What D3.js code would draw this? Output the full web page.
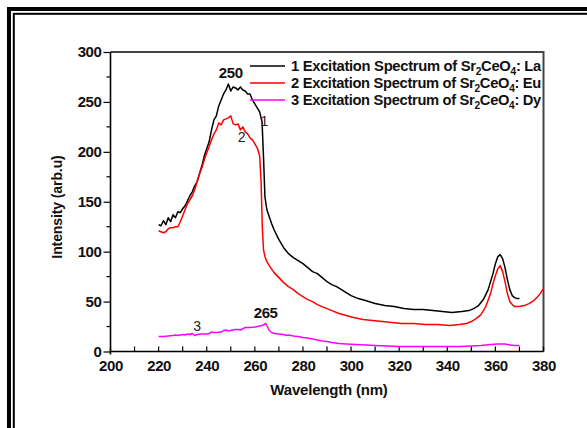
<!DOCTYPE html>
<html><head><meta charset="utf-8">
<script src="https://cdn.jsdelivr.net/npm/d3@7"></script>
<style>body{margin:0;background:#fff}svg{display:block}text{font-family:Arial,"Liberation Sans",sans-serif}</style>
</head><body><svg id="c" width="587" height="428"></svg>
<script>
// ---- data ----
const laWave = [220,221,222,223,224,225,226,227,228,229,230,231,232,233,234,235,236,237,238,239,240,241,242,243,244,245,246,247,248,249,250,251,252,253,254,255,256,257,258,259,260,261,262,263,263.6,264.2,265,266,267,268,270,272,274,276,278,280,282,284,286,288,290,292,294,296,298,300,303,306,310,314,318,322,326,330,334,338,342,346,349,351,353,355,357,359,360,361,362,363,364,365,366,367,368,369,370];
const laVal  = [127,126,131,127,134,130,137,134,140,139,143,146,151,156,160,166,170,178,186,196,203,210,222,232,236,246,252,258,262,268,261,265,264,262,265,262,261,258,258,252,248,244,240,230,195,155,142,135,128,122,112,104,98,94,91,88,84,80,78,74,70,67,65,62,59,56,53,51,48,46,45,43,42,42,41,40,39,40,41,43,46,52,62,78,88,95,97,93,84,72,62,56,54,53,53];
const euWave = [220,221,222,223,224,225,226,227,228,229,230,231,232,233,234,235,236,237,238,239,240,241,242,243,244,245,246,247,248,249,250,251,252,253,254,255,256,257,258,259,260,261,262,262.6,263.1,263.6,264.2,265,266,268,270,272,274,276,278,280,282,284,286,288,290,292,295,298,301,305,309,313,317,321,326,331,336,341,345,348,350,352,354,356,358,359,360,361,362,363,364,365,366,367,368,370,372,374,376,378,380];
const euVal  = [121,120,119,120,123,124,124,125,125,130,136,142,148,152,156,162,170,178,184,192,199,205,212,218,222,229,227,232,233,234,236,228,227,228,222,225,220,218,214,212,208,204,196,170,125,102,95,90,86,79,74,69,65,62,58,55,52,50,47,45,43,41,38,36,34,32,31,30,29,28,28,27,27,26,27,28,30,33,37,45,58,68,76,83,86,80,70,58,50,47,45,45,46,48,51,56,63];
const dyWave = [220,222,224,226,227,228,230,231,232,233,234,235,236,238,240,241,242,243,244,246,247,248,249,250,252,253,254,256,258,260,262,263,264,264.5,265,266,267,268,270,272,273,274,276,278,280,282,284,286,288,290,292,295,298,302,306,310,315,320,330,340,345,350,354,358,361,364,366,368,370];
const dyVal  = [15,15,15.5,16,16.5,16,17,16.5,17.5,17,18,16,17,17.5,17.5,18,19.5,19,19,19.5,21,21.5,20.5,21,22,22,21.5,24,24,24.5,25.5,26,27.5,28,26,21,19,18,17.5,17,16,16.5,15.5,15,14,13.5,12.5,11.5,10.5,10,9,8,7.5,7,6.5,6,5.5,5,5,5,5,5.5,6,7,7.5,7.5,6.5,6,6];
const seriesNames = ["1 Excitation Spectrum of Sr|2|CeO|4|: La","2 Excitation Spectrum of Sr|2|CeO|4|: Eu","3 Excitation Spectrum of Sr|2|CeO|4|: Dy"];
const seriesColors = ["#000000","#ff0000","#ff00ff"];
const xTicks = [200,220,240,260,280,300,320,340,360,380];
const yTicks = [0,50,100,150,200,250,300];
const xTitle = "Wavelength (nm)";
const yTitle = "Intensity (arb.u)";
const peakLabels = [{t:"250",w:250,v:274},{t:"265",w:264.5,v:33.5}];
const curveLabels = [{t:"1",w:264,v:226},{t:"2",w:254.5,v:210},{t:"3",w:236,v:21}];

// ---- drawing ----
const svg = d3.select("#c");
const L=110.5, R=543.5, T=52, B=351.5;
const x = d3.scaleLinear().domain([200,380]).range([L,R]);
const y = d3.scaleLinear().domain([0,300]).range([B,T]);

// page border
svg.append("rect").attr("x",9).attr("y",9).attr("width",640).attr("height",480).attr("fill","none").attr("stroke","#000").attr("stroke-width",4);
svg.append("rect").attr("x",13.8).attr("y",13.8).attr("width",640).attr("height",480).attr("fill","none").attr("stroke","#000").attr("stroke-width",2);

// frame top/right
svg.append("path").attr("d",`M${L},${T}H${R}V${B}`).attr("fill","none").attr("stroke","#444").attr("stroke-width",2);

// x axis with inward ticks
const gx = svg.append("g").attr("transform",`translate(0,${B})`);
gx.selectAll("line.mn").data(d3.range(200,381,10)).enter().append("line")
  .attr("x1",d=>x(d)).attr("x2",d=>x(d)).attr("y1",0).attr("y2",-5).attr("stroke","#000").attr("stroke-width",1.2);
const xAxis = d3.axisBottom(x).tickValues(xTicks).tickSize(0).tickPadding(9).tickFormat(d3.format("d"));
gx.call(xAxis);
gx.select(".domain").attr("stroke","#000").attr("stroke-width",1.6).attr("d",`M${L-1},0H${R}`);
gx.selectAll("text").attr("font-size",15).attr("font-weight","bold").attr("fill","#111").attr("font-family","Arial, Liberation Sans, sans-serif").attr("letter-spacing","-0.4");

// y axis with outward ticks
const gy = svg.append("g").attr("transform",`translate(${L},0)`);
gy.selectAll("line.mn").data(d3.range(25,300,50)).enter().append("line")
  .attr("x1",0).attr("x2",-4).attr("y1",d=>y(d)).attr("y2",d=>y(d)).attr("stroke","#000").attr("stroke-width",1.2);
const yAxis = d3.axisLeft(y).tickValues(yTicks).tickSize(7).tickPadding(2);
gy.call(yAxis);
gy.select(".domain").attr("stroke","#000").attr("stroke-width",1.6).attr("d",`M0,${T}V${B+3}`);
gy.selectAll(".tick line").attr("stroke-width",1.2);
gy.selectAll("text").attr("font-size",15).attr("font-weight","bold").attr("fill","#111").attr("font-family","Arial, Liberation Sans, sans-serif").attr("letter-spacing","-0.4");

// titles
svg.append("text").attr("x",(L+R)/2+2).attr("y",395).attr("text-anchor","middle").attr("font-size",15).attr("font-weight","bold").attr("letter-spacing","-0.2").attr("fill","#111").text(xTitle);
svg.append("text").attr("transform",`translate(62,${207}) rotate(-90)`).attr("text-anchor","middle").attr("font-size",14).attr("font-weight","bold").attr("letter-spacing","-0.1").attr("fill","#111").text(yTitle);

// curves
const line = d3.line().x(d=>x(d[0])).y(d=>y(d[1]));
const series = [[laWave,laVal],[euWave,euVal],[dyWave,dyVal]];
series.forEach((s,i)=>{
  const pts = s[0].map((w,j)=>[w,s[1][j]]);
  svg.append("path").datum(pts).attr("d",line).attr("fill","none").attr("stroke",seriesColors[i]).attr("stroke-width",1.5).attr("stroke-linejoin","round");
});

// legend
seriesNames.forEach((n,i)=>{
  const yy = 66 + i*17;
  svg.append("line").attr("x1",250).attr("x2",285).attr("y1",yy).attr("y2",yy).attr("stroke",seriesColors[i]).attr("stroke-width",1.5);
  const t = svg.append("text").attr("x",291).attr("y",yy+5).attr("font-size",14.5).attr("font-weight","bold").attr("letter-spacing","-0.3").attr("fill","#111");
  n.split("|").forEach((part,k)=>{
    const ts = t.append("tspan").text(part);
    if(k%2===1){ ts.attr("dy",3.5).attr("font-size",10); }
    else if(k>0){ ts.attr("dy",-3.5); }
  });
  t.attr("textLength",250).attr("lengthAdjust","spacingAndGlyphs");
});

// annotations
peakLabels.forEach(p=>{
  svg.append("text").attr("x",x(p.w)).attr("y",y(p.v)).attr("text-anchor","middle").attr("font-size",15).attr("font-weight","bold").attr("letter-spacing","-0.4").attr("fill","#111").text(p.t);
});
curveLabels.forEach(p=>{
  svg.append("text").attr("x",x(p.w)).attr("y",y(p.v)).attr("text-anchor","middle").attr("font-size",14).attr("fill","#222").text(p.t);
});
</script></body></html>
